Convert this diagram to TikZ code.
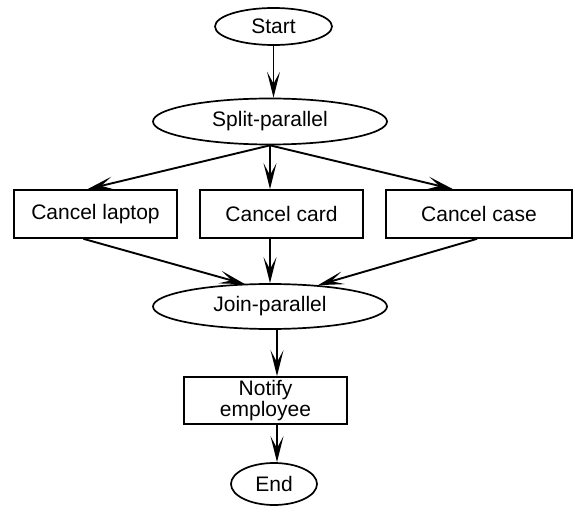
\documentclass[tikz,border=0pt]{standalone}
\usepackage{fontspec}
\setmainfont{Liberation Sans}
\usetikzlibrary{shapes.geometric,arrows.meta,calc}
\begin{document}
\begin{tikzpicture}[x=1pt,y=-1pt,
  every node/.style={font=\fontsize{21}{21}\selectfont, inner sep=0pt},
  oval/.style={ellipse, draw, line width=1.7pt},
  task/.style={rectangle, draw, line width=1.7pt, align=center},
  flow/.style={line width=1.9pt, -{Stealth[length=26pt, width=13pt, inset=12pt]}}]
  \useasboundingbox (0,0) rectangle (575,518);

  % states and tasks
  \node[oval, minimum width=117pt, minimum height=37pt] (start) at (273.5,26.5) {Start};
  \node[oval, minimum width=234pt, minimum height=46pt] (split) at (270,121.5) {Split-parallel};
  \node[task, minimum width=163pt, minimum height=48pt] (laptop) at (95.5,214) {Cancel laptop};
  \node[task, minimum width=163pt, minimum height=48pt] (card) at (281.5,214) {Cancel card};
  \node[task, minimum width=186pt, minimum height=48pt] (case) at (479,214) {Cancel case};
  \node[oval, minimum width=234pt, minimum height=45pt] (join) at (270,306.5) {Join-parallel};
  \node[task, minimum width=163pt, minimum height=47pt] (notify) at (265.5,400.5) {Notify\\employee};
  \node[oval, minimum width=86pt, minimum height=42pt] (end) at (274,484) {End};

  % vertical spine of the lower part
  \coordinate (spine) at (277,0);

  % connectors
  \draw[flow] (start.south) -- (start.south |- split.north);
  \draw[flow] (split.south) -- ($(laptop.north)+(-8,0)$);
  \draw[flow] (split.south) -- (split.south |- card.north);
  \draw[flow] (split.south) -- ($(case.north)+(-26,0)$);
  \draw[flow] ($(laptop.south)+(-12,0)$) -- ($(join.north)+(-25,1)$);
  \draw[flow] (join.north |- card.south) -- (join.north);
  \draw[flow] ($(case.south)+(-2,0)$) -- ($(join.north)+(48,2)$);
  \draw[flow] (spine |- join.south) -- (spine |- notify.north);
  \draw[flow] (spine |- notify.south) -- (spine |- end.north);
\end{tikzpicture}
\end{document}
